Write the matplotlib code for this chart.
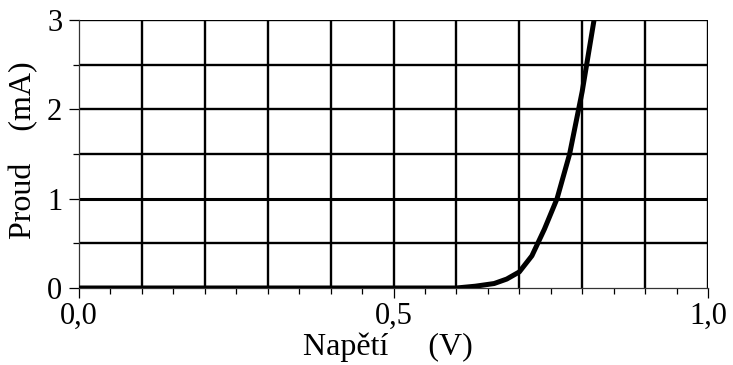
import matplotlib
matplotlib.use("Agg")
import matplotlib.pyplot as plt
import numpy as np
from matplotlib.ticker import MultipleLocator

plt.rcParams['font.family'] = ['Liberation Serif', 'DejaVu Serif']

voltage = [0.0, 0.1, 0.2, 0.3, 0.4, 0.5, 0.6, 0.63, 0.66, 0.68, 0.70, 0.72, 0.74, 0.76, 0.78, 0.80, 0.82]
current = [0.0, 0.0, 0.0, 0.0, 0.0, 0.0, 0.0, 0.02, 0.05, 0.10, 0.18, 0.36, 0.66, 1.00, 1.50, 2.20, 3.05]

x_ticks = [0.0, 0.5, 1.0]
x_tick_labels = ["0,0", "0,5", "1,0"]
y_ticks = [0, 1, 2, 3]
y_tick_labels = ["0", "1", "2", "3"]

fig = plt.figure(figsize=(7.33, 3.65), dpi=100)
ax = fig.add_axes([79/733, 1-288/365, (708-79)/733, (288-20)/365])

ax.set_xlim(0, 1.0)
ax.set_ylim(0, 3)

# grid
for xv in np.arange(0.1, 1.01, 0.1):
    ax.axvline(xv, color='black', lw=1.7, zorder=1)
for yv in np.arange(0.5, 3.01, 0.5):
    ax.axhline(yv, color='black', lw=2.2 if abs(yv-1) < 1e-6 else 1.7, zorder=1)

ax.plot(voltage, current, color='black', lw=3.6, zorder=3, solid_capstyle='butt')

for s in ['top', 'right']:
    ax.spines[s].set_visible(False)
for s in ['left', 'bottom']:
    ax.spines[s].set_linewidth(0.9)
    ax.spines[s].set_color('#333333')

ax.set_xticks(x_ticks)
ax.set_xticklabels(x_tick_labels)
ax.set_yticks(y_ticks)
ax.set_yticklabels(y_tick_labels)
ax.xaxis.set_minor_locator(MultipleLocator(0.05))
ax.yaxis.set_minor_locator(MultipleLocator(0.5))
ax.tick_params(axis='both', which='major', direction='out', length=7, width=0.9, labelsize=22)
ax.tick_params(axis='both', which='minor', direction='out', length=4, width=0.9)
ax.tick_params(axis='x', which='major', pad=3)
ax.tick_params(axis='y', which='major', pad=5)

ax.set_xlabel("Napětí     (V)", fontsize=23, labelpad=0)
ax.set_ylabel("Proud    (mA)", fontsize=23, labelpad=6)
ax.xaxis.set_label_coords((388-79)/629, -0.165)
ax.yaxis.set_label_coords((38-79)/629, (288-150)/268)

fig.savefig("out.png", dpi=100)
